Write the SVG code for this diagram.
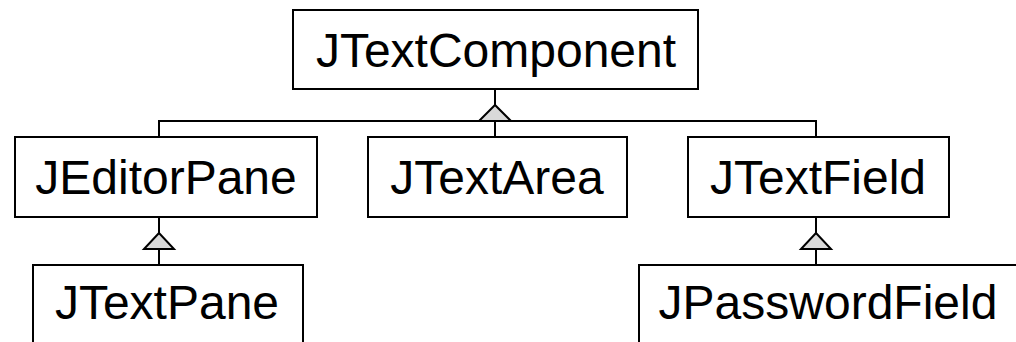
<svg xmlns="http://www.w3.org/2000/svg" width="1016" height="342" viewBox="0 0 1016 342">
<style>
.box{fill:#fff;stroke:#000;stroke-width:2}
.lbl{font-family:"Liberation Sans",Arial,sans-serif;font-size:48px;fill:#000;text-anchor:middle}
.ln{fill:none;stroke:#000;stroke-width:2}
.tri{fill:#d9d9d9;stroke:#000;stroke-width:2}
</style>
<rect width="1016" height="342" fill="#fff"/>
<g id="connectors">
<polyline class="ln" points="495,89 495,121"/>
<polyline class="ln" points="159,137 159,121 816,121 816,137"/>
<polyline class="ln" points="495,121 495,137"/>
<polygon class="tri" points="495,105 479,121 511,121"/>
<polyline class="ln" points="159,217 159,265"/>
<polygon class="tri" points="159,233 144,249 174,249"/>
<polyline class="ln" points="816,217 816,265"/>
<polygon class="tri" points="816,233 801,249 831,249"/>
</g>
<g id="JTextComponent">
<rect class="box" x="293" y="10" width="405" height="79"/>
<text class="lbl" x="496" y="67">JTextComponent</text>
</g>
<g id="JEditorPane">
<rect class="box" x="15" y="137" width="302" height="80"/>
<text class="lbl" x="166" y="194">JEditorPane</text>
</g>
<g id="JTextArea">
<rect class="box" x="368" y="137" width="259" height="80"/>
<text class="lbl" x="497" y="194">JTextArea</text>
</g>
<g id="JTextField">
<rect class="box" x="688" y="137" width="261" height="80"/>
<text class="lbl" x="818" y="194">JTextField</text>
</g>
<g id="JTextPane">
<rect class="box" x="33" y="265" width="270" height="90"/>
<text class="lbl" x="167" y="319">JTextPane</text>
</g>
<g id="JPasswordField">
<rect class="box" x="639" y="265" width="390" height="90"/>
<text class="lbl" x="828" y="319">JPasswordField</text>
</g>
</svg>
